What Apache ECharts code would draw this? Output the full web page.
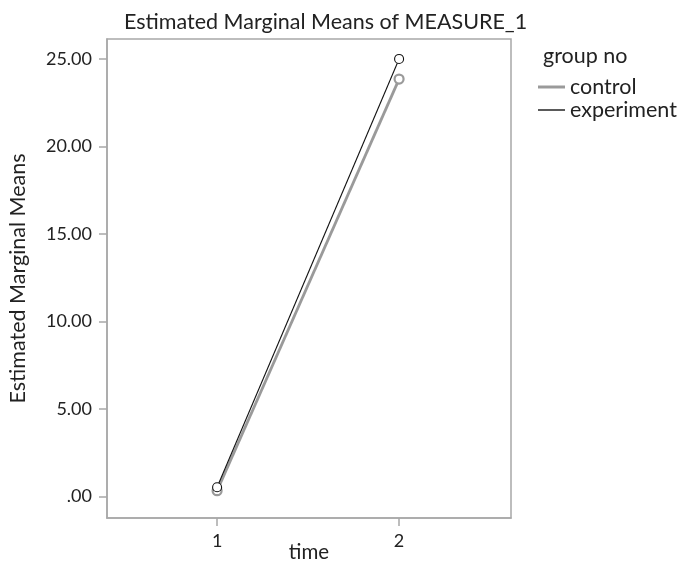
<!DOCTYPE html>
<html><head><meta charset="utf-8">
<script src="https://cdn.jsdelivr.net/npm/echarts@6/dist/echarts.min.js"></script>
<style>html,body{margin:0;padding:0;background:#fff}#c{width:688px;height:562px}</style>
</head><body><div id="c"></div>
<script>
const timePoints = [1, 2];
const seriesNames = ['control', 'experiment'];
const controlMeans = [0.32, 23.85];
const experimentMeans = [0.52, 25.0];
const yTicks = [0, 5, 10, 15, 20, 25];
const xTicks = [1, 2];

const FONT = 'Lato';
const TXT = '#222';
const AX = '#a8a8a8';
const chart = echarts.init(document.getElementById('c'), null, {renderer: 'canvas'});
const pairs = (vals) => timePoints.map((t, i) => [t, vals[i]]);
chart.setOption({
  animation: false,
  backgroundColor: '#fff',
  textStyle: {fontFamily: FONT},
  title: [
    {text: 'Estimated Marginal Means of MEASURE_1', left: 119, top: 6,
     textStyle: {fontFamily: FONT, fontSize: 21.5, fontWeight: 'normal', color: TXT}},
    {text: 'group no', left: 538, top: 40,
     textStyle: {fontFamily: FONT, fontSize: 21.5, fontWeight: 'normal', color: TXT}}
  ],
  legend: [
    {data: [{name: seriesNames[0], itemStyle: {color: '#9a9a9a', borderWidth: 0}}],
     left: 538, top: 76, orient: 'vertical', icon: 'rect',
     itemWidth: 27, itemHeight: 3, padding: 0,
     textStyle: {fontFamily: FONT, fontSize: 21.5, color: TXT}},
    {data: [{name: seriesNames[1], itemStyle: {color: '#000', borderWidth: 0}}],
     left: 538, top: 99, orient: 'vertical', icon: 'rect',
     itemWidth: 27, itemHeight: 1.3, padding: 0,
     textStyle: {fontFamily: FONT, fontSize: 21.5, color: TXT}}
  ],
  grid: {left: 107, right: 177, top: 39, bottom: 44, containLabel: false, outerBoundsMode: 'none',
         show: true, borderColor: AX, borderWidth: 1.5, backgroundColor: '#fff'},
  xAxis: {
    type: 'value', min: 0.395, max: 2.615,
    name: 'time', nameLocation: 'middle', nameGap: 24, nameMoveOverlap: false,
    nameTextStyle: {fontFamily: FONT, fontSize: 20.5, color: TXT},
    axisLine: {show: true, onZero: false, lineStyle: {color: AX, width: 1.5}},
    axisTick: {show: true, customValues: xTicks, length: 8, inside: false, lineStyle: {color: AX, width: 1.5}},
    axisLabel: {customValues: xTicks, fontFamily: FONT, fontSize: 18, color: TXT, margin: 14},
    splitLine: {show: false}
  },
  yAxis: {
    type: 'value', min: -1.24, max: 26.14,
    name: 'Estimated Marginal Means', nameLocation: 'middle', nameGap: 78, nameMoveOverlap: false,
    nameTextStyle: {fontFamily: FONT, fontSize: 21.5, color: TXT},
    axisLine: {show: true, onZero: false, lineStyle: {color: AX, width: 1.5}},
    axisTick: {show: true, customValues: yTicks, length: 8, lineStyle: {color: AX, width: 1.5}},
    axisLabel: {customValues: yTicks, fontFamily: FONT, fontSize: 18, color: TXT, margin: 15,
      formatter: v => v === 0 ? '.00' : v.toFixed(2)},
    splitLine: {show: false}
  },
  series: [
    {name: seriesNames[0], type: 'line', data: pairs(controlMeans),
     symbol: 'circle', symbolSize: 9, color: '#9a9a9a',
     lineStyle: {color: '#9a9a9a', width: 2.8},
     itemStyle: {color: '#fff', borderColor: '#9a9a9a', borderWidth: 2.2}},
    {name: seriesNames[1], type: 'line', data: pairs(experimentMeans),
     symbol: 'circle', symbolSize: 9, color: '#111',
     lineStyle: {color: '#111', width: 1.1},
     itemStyle: {color: '#fff', borderColor: '#111', borderWidth: 1.1}}
  ]
});
</script></body></html>
